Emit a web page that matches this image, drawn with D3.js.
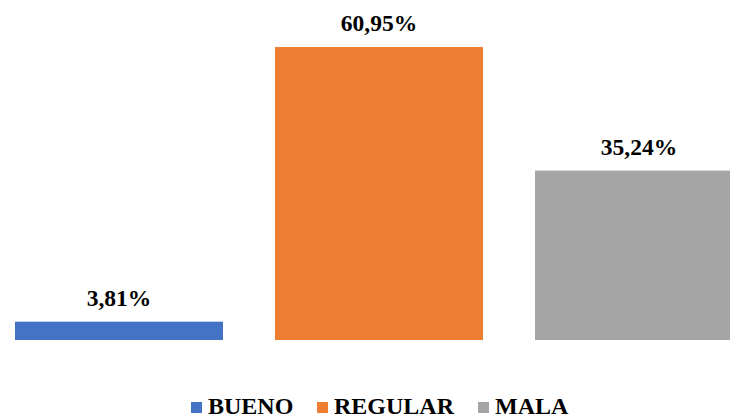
<!DOCTYPE html>
<html>
<head>
<meta charset="utf-8">
<script src="https://cdn.jsdelivr.net/npm/d3@7/dist/d3.min.js"></script>
<style>
  html, body { margin: 0; padding: 0; background: #fff; }
  svg { display: block; }
</style>
</head>
<body>
<script>
const categories = ["BUENO", "REGULAR", "MALA"];
const values = [3.81, 60.95, 35.24];
const labels = ["3,81%", "60,95%", "35,24%"];
const colors = ["#4472C4", "#ED7D31", "#A5A5A5"];

const W = 730, H = 419;
const svg = d3.select("body").append("svg").attr("width", W).attr("height", H);

const x = d3.scaleBand().domain(categories).range([-11, 769]).paddingInner(0.2).paddingOuter(0.1);
const y = d3.scaleLinear().domain([0, 60.95]).range([340, 47]);

svg.selectAll("rect.bar").data(categories).join("rect")
  .attr("class", "bar")
  .attr("x", d => x(d))
  .attr("y", (d, i) => y(values[i]))
  .attr("width", x.bandwidth())
  .attr("height", (d, i) => y(0) - y(values[i]))
  .attr("fill", (d, i) => colors[i]);

svg.selectAll("text.lbl").data(categories).join("text")
  .attr("class", "lbl")
  .attr("x", (d, i) => i === 2 ? x(d) + 104 : x(d) + x.bandwidth() / 2)
  .attr("y", (d, i) => y(values[i]) - 16)
  .attr("text-anchor", "middle")
  .attr("font-family", "'Liberation Serif', 'Times New Roman', serif")
  .attr("font-weight", "bold")
  .attr("font-size", 23.5)
  .attr("fill", "#000")
  .text((d, i) => labels[i]);

// legend
const legX = [191, 317, 478];
const lg = svg.append("g");
categories.forEach((c, i) => {
  lg.append("rect").attr("x", legX[i]).attr("y", 402).attr("width", 11).attr("height", 11).attr("fill", colors[i]);
  lg.append("text").attr("x", legX[i] + 17).attr("y", 414)
    .attr("font-family", "'Liberation Serif', 'Times New Roman', serif")
    .attr("font-weight", "bold").attr("font-size", 24).attr("fill", "#000").text(c);
});
</script>
</body>
</html>
